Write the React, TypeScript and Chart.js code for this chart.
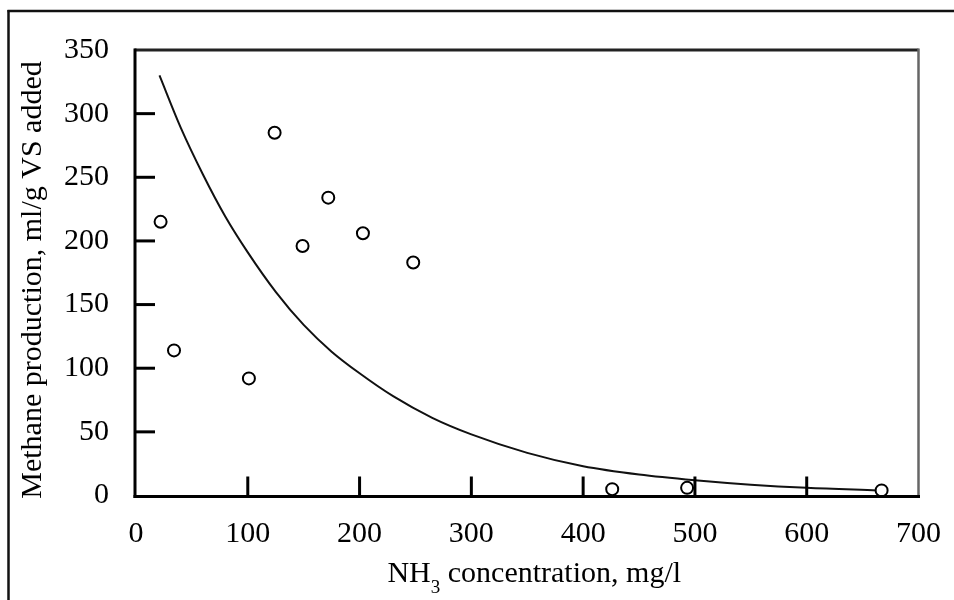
import React, { useEffect, useRef } from "react";
import { Chart, registerables } from "chart.js";

Chart.register(...registerables);

// Measured data points (NH3 concentration, methane production)
const pointsX = [22, 34, 101, 124, 149, 172, 203, 248, 426, 493, 667];
const pointsY = [215, 114, 92, 285, 196, 234, 206, 183, 5, 6, 4];

// Fitted curve
const curveX = [21, 40, 60, 80, 100, 125, 150, 175, 200, 230, 265, 300, 350, 400, 450, 500, 550, 600, 663];
const curveY = [330, 289, 252, 219, 191, 160, 134, 113, 96, 78, 61, 48, 33.5, 23, 16.5, 12, 8.5, 6, 4];

// Axes
const xMin = 0;
const xMax = 700;
const xStep = 100;
const yMin = 0;
const yMax = 350;
const yStep = 50;

// Texts
const xTitleMain = "NH";
const xTitleSub = "3";
const xTitleRest = " concentration, mg/l";
const yTitle = "Methane production, ml/g VS added";

const FONT = "'Liberation Serif', 'Times New Roman', Times, serif";

const framePlugin = {
  id: "framePlugin",
  afterDatasetsDraw(chart: any) {
    const ctx = chart.ctx as CanvasRenderingContext2D;
    const { left, right, top, bottom } = chart.chartArea;
    const xs = chart.scales.x;
    const ys = chart.scales.y;
    ctx.save();
    ctx.lineCap = "butt";

    // inward tick marks
    ctx.strokeStyle = "#000";
    ctx.lineWidth = 3;
    ys.ticks.forEach((t: any) => {
      if (t.value <= yMin || t.value >= yMax) return;
      const y = ys.getPixelForValue(t.value);
      ctx.beginPath();
      ctx.moveTo(left, y);
      ctx.lineTo(left + 19, y);
      ctx.stroke();
    });
    xs.ticks.forEach((t: any) => {
      if (t.value <= xMin || t.value >= xMax) return;
      const x = xs.getPixelForValue(t.value);
      ctx.beginPath();
      ctx.moveTo(x, bottom);
      ctx.lineTo(x, bottom - 19);
      ctx.stroke();
    });

    // plot frame
    ctx.strokeStyle = "#222";
    ctx.lineWidth = 3;
    ctx.beginPath();
    ctx.moveTo(left - 1.5, top);
    ctx.lineTo(right, top);
    ctx.stroke();

    ctx.strokeStyle = "#666";
    ctx.lineWidth = 2.5;
    ctx.beginPath();
    ctx.moveTo(right, top - 1.5);
    ctx.lineTo(right, bottom);
    ctx.stroke();

    ctx.strokeStyle = "#000";
    ctx.lineWidth = 3;
    ctx.beginPath();
    ctx.moveTo(left - 1, top - 1.5);
    ctx.lineTo(left - 1, bottom + 2.5);
    ctx.stroke();
    ctx.beginPath();
    ctx.moveTo(left - 2.5, bottom + 1);
    ctx.lineTo(right + 1.5, bottom + 1);
    ctx.stroke();

    // outer frame
    ctx.strokeStyle = "#111";
    ctx.lineWidth = 2.5;
    ctx.beginPath();
    ctx.moveTo(7.5, 11);
    ctx.lineTo(chart.width, 11);
    ctx.stroke();
    ctx.beginPath();
    ctx.moveTo(8.5, 10);
    ctx.lineTo(8.5, chart.height);
    ctx.stroke();

    // x title with subscript
    ctx.fillStyle = "#000";
    ctx.textBaseline = "alphabetic";
    ctx.textAlign = "left";
    const mainFont = `30px ${FONT}`;
    const subFont = `19px ${FONT}`;
    ctx.font = mainFont;
    const w1 = ctx.measureText(xTitleMain).width;
    const w3 = ctx.measureText(xTitleRest).width;
    ctx.font = subFont;
    const w2 = ctx.measureText(xTitleSub).width;
    const total = w1 + w2 + w3;
    const cx = (left + right) / 2 + 7;
    let x0 = cx - total / 2;
    const base = 582;
    ctx.font = mainFont;
    ctx.fillText(xTitleMain, x0, base);
    x0 += w1;
    ctx.font = subFont;
    ctx.fillText(xTitleSub, x0, base + 11);
    x0 += w2;
    ctx.font = mainFont;
    ctx.fillText(xTitleRest, x0, base);

    // y title
    ctx.save();
    ctx.translate(41, 280);
    ctx.rotate(-Math.PI / 2);
    ctx.textAlign = "center";
    ctx.font = mainFont;
    ctx.fillText(yTitle, 0, 0);
    ctx.restore();

    ctx.restore();
  },
};

export default function App() {
  const ref = useRef<HTMLCanvasElement | null>(null);

  useEffect(() => {
    if (!ref.current) return;
    const pts = pointsX.map((x, i) => ({ x, y: pointsY[i] }));
    const curve = curveX.map((x, i) => ({ x, y: curveY[i] }));
    const chart = new Chart(ref.current, {
      type: "scatter",
      data: {
        datasets: [
          {
            label: "Measured",
            data: pts,
            pointStyle: "circle",
            pointRadius: 6,
            pointBorderWidth: 2,
            pointBorderColor: "#000",
            pointBackgroundColor: "#fff",
            showLine: false,
          },
          {
            label: "Model",
            data: curve,
            showLine: true,
            borderColor: "#111",
            borderWidth: 2,
            pointRadius: 0,
            fill: false,
            cubicInterpolationMode: "monotone",
          },
        ],
      },
      options: {
        animation: false,
        responsive: false,
        devicePixelRatio: 1,
        events: [],
        layout: { padding: { top: 50, right: 33, left: 0, bottom: 0 } },
        plugins: {
          legend: { display: false },
          tooltip: { enabled: false },
          title: { display: false },
        },
        scales: {
          x: {
            type: "linear",
            min: xMin,
            max: xMax,
            grid: { display: false },
            border: { display: false },
            ticks: {
              stepSize: xStep,
              color: "#000",
              font: { family: FONT, size: 30 },
              padding: 13,
              maxRotation: 0,
              autoSkip: false,
            },
            afterFit: (s: any) => {
              s.height = 104.5;
            },
          },
          y: {
            type: "linear",
            min: yMin,
            max: yMax,
            grid: { display: false },
            border: { display: false },
            ticks: {
              stepSize: yStep,
              color: "#000",
              font: { family: FONT, size: 30 },
              padding: 19,
              autoSkip: false,
            },
            afterFit: (s: any) => {
              s.width = 136;
            },
          },
        },
      } as any,
      plugins: [framePlugin],
    });
    return () => chart.destroy();
  }, []);

  return (
    <div
      style={{
        position: "fixed",
        left: 0,
        top: 0,
        width: 954,
        height: 600,
        background: "#fff",
      }}
    >
      <canvas ref={ref} width={954} height={600} style={{ display: "block" }} />
    </div>
  );
}
